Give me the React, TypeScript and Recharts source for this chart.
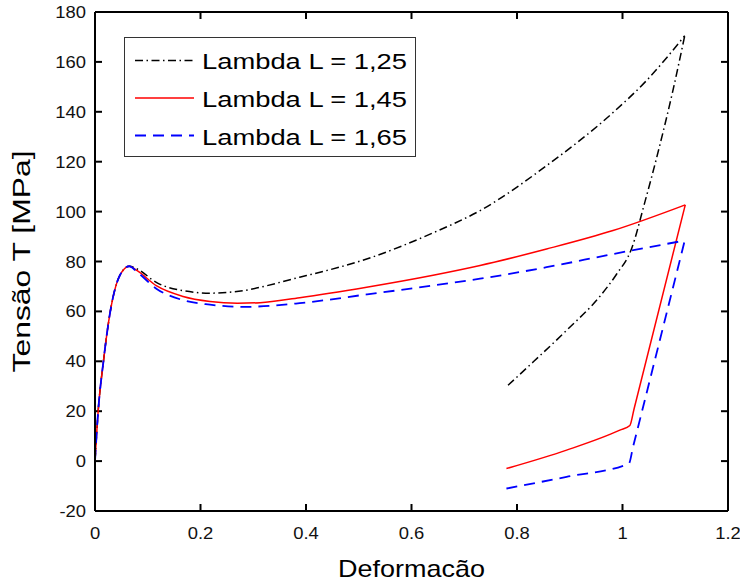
import React from "react"
import { LineChart, Line, XAxis, YAxis, Legend, ReferenceLine } from "recharts"

type Pt = { x: number; y: number }

// Lambda L = 1,25 : loading branch, then unloading branch (sorted by x)
const blackLoad: Pt[] = [
  { x: 0, y: 0 }, { x: 0.006, y: 20 }, { x: 0.016, y: 40 }, { x: 0.029, y: 60 },
  { x: 0.047, y: 74.4 }, { x: 0.065, y: 78.1 }, { x: 0.08, y: 77 }, { x: 0.117, y: 71.5 },
  { x: 0.167, y: 68.3 }, { x: 0.218, y: 67.3 }, { x: 0.262, y: 67.8 }, { x: 0.388, y: 73.7 },
  { x: 0.515, y: 81 }, { x: 0.641, y: 91.5 }, { x: 0.73, y: 100.4 }, { x: 0.856, y: 118.4 },
  { x: 0.982, y: 139.7 }, { x: 1.045, y: 152.4 }, { x: 1.118, y: 170.5 }
]
const blackUnload: Pt[] = [
  { x: 0.783, y: 30.4 }, { x: 0.831, y: 39.8 }, { x: 0.894, y: 52.4 }, { x: 0.957, y: 66 },
  { x: 0.989, y: 75 }, { x: 1.017, y: 85 }, { x: 1.042, y: 103.5 }, { x: 1.07, y: 126 },
  { x: 1.095, y: 148 }, { x: 1.118, y: 170.5 }
]

// Lambda L = 1,45
const redLoad: Pt[] = [
  { x: 0, y: 0 }, { x: 0.006, y: 20 }, { x: 0.016, y: 40 }, { x: 0.029, y: 60 },
  { x: 0.047, y: 74.4 }, { x: 0.065, y: 78.1 }, { x: 0.08, y: 76.3 }, { x: 0.117, y: 70.2 },
  { x: 0.167, y: 66 }, { x: 0.218, y: 64 }, { x: 0.27, y: 63.3 }, { x: 0.313, y: 63.5 },
  { x: 0.388, y: 65.5 }, { x: 0.515, y: 69.7 }, { x: 0.641, y: 74.5 }, { x: 0.73, y: 78.4 },
  { x: 0.856, y: 85 }, { x: 0.982, y: 92.4 }, { x: 1.119, y: 102.7 }
]
const redUnload: Pt[] = [
  { x: 0.78, y: -3 }, { x: 0.894, y: 4.4 }, { x: 0.995, y: 12.4 }, { x: 1.014, y: 14.3 },
  { x: 1.022, y: 21 }, { x: 1.119, y: 102.7 }
]

// Lambda L = 1,65
const blueLoad: Pt[] = [
  { x: 0, y: 0 }, { x: 0.006, y: 20 }, { x: 0.016, y: 40 }, { x: 0.029, y: 60 },
  { x: 0.047, y: 74.4 }, { x: 0.065, y: 78.1 }, { x: 0.08, y: 75.8 }, { x: 0.117, y: 69 },
  { x: 0.167, y: 64.5 }, { x: 0.218, y: 62.7 }, { x: 0.28, y: 61.8 }, { x: 0.388, y: 63.3 },
  { x: 0.515, y: 66.8 }, { x: 0.641, y: 70.4 }, { x: 0.73, y: 73.1 }, { x: 0.856, y: 77.7 },
  { x: 0.982, y: 83 }, { x: 1.118, y: 88.4 }
]
const blueUnload: Pt[] = [
  { x: 0.78, y: -11 }, { x: 0.894, y: -6.3 }, { x: 1.012, y: -1 }, { x: 1.02, y: 5.7 },
  { x: 1.118, y: 88.4 }
]

const xTicks = [0, 0.2, 0.4, 0.6, 0.8, 1, 1.2]
const yTicks = [-20, 0, 20, 40, 60, 80, 100, 120, 140, 160, 180]
const seriesNames = ["Lambda L = 1,25", "Lambda L = 1,45", "Lambda L = 1,65"]

const X_DOMAIN: [number, number] = [0, 1.2]
const Y_DOMAIN: [number, number] = [-20, 180]

const FONT = "'Liberation Sans', Arial, Helvetica, sans-serif"
const seriesStyles = [
  { color: "#000000", dash: "8 3.5 1.5 3.5", width: 1.5 },
  { color: "#ff0000", dash: "", width: 1.5 },
  { color: "#0000ff", dash: "11 7", width: 1.8 }
]

// plot box size in px, to turn the 7px inward tick length into axis units
const PLOT_W = 633
const PLOT_H = 499
const TICK_PX = 7
const tickDx = (TICK_PX * (X_DOMAIN[1] - X_DOMAIN[0])) / PLOT_W
const tickDy = (TICK_PX * (Y_DOMAIN[1] - Y_DOMAIN[0])) / PLOT_H

const BottomTick = ({ x, y, payload }: any) => (
  <text
    transform={`translate(${x},${y + 28}) scale(1.15,1)`}
    textAnchor="middle"
    fontSize={16}
    fontFamily={FONT}
    fill="#111"
  >
    {String(payload.value)}
  </text>
)

const LeftTick = ({ x, y, payload }: any) => (
  <text
    transform={`translate(${x - 9},${y + 6}) scale(1.15,1)`}
    textAnchor="end"
    fontSize={16}
    fontFamily={FONT}
    fill="#111"
  >
    {String(payload.value)}
  </text>
)

const LegendBox = () => (
  <svg width={292} height={120} style={{ display: "block" }}>
    <rect x={0.5} y={0.5} width={291} height={119} fill="#fff" stroke="#333" strokeWidth={1} />
    {seriesNames.map((name, i) => {
      const s = seriesStyles[i]
      return (
        <g key={name}>
          <line
            x1={11}
            x2={70}
            y1={23.5 + i * 37.5}
            y2={23.5 + i * 37.5}
            stroke={s.color}
            strokeWidth={s.width}
            strokeDasharray={s.dash || undefined}
          />
          <text
            x={78}
            y={32 + i * 38}
            fontSize={22.5}
            fontFamily={FONT}
            fill="#000"
            textLength={205}
            lengthAdjust="spacingAndGlyphs"
          >
            {name}
          </text>
        </g>
      )
    })}
  </svg>
)

export default function App() {
  const lines = [
    { data: blackLoad, s: seriesStyles[0] },
    { data: blackUnload, s: seriesStyles[0] },
    { data: redLoad, s: seriesStyles[1] },
    { data: redUnload, s: seriesStyles[1] },
    { data: blueLoad, s: seriesStyles[2] },
    { data: blueUnload, s: seriesStyles[2] }
  ]

  return (
    <div style={{ position: "absolute", left: 0, top: 0, width: 740, height: 582, background: "#fff" }}>
      <LineChart width={740} height={582} margin={{ top: 12, right: 12, bottom: 0, left: 0 }}>
        <XAxis
          dataKey="x"
          type="number"
          domain={X_DOMAIN}
          ticks={xTicks}
          interval={0}
          height={71}
          tickSize={0}
          tickMargin={0}
          tickLine={false}
          axisLine={{ stroke: "#000", strokeWidth: 2 }}
          tick={(p: any) => <BottomTick {...p} />}
          label={(p: any) => {
            const vb = p && p.viewBox ? p.viewBox : { x: 95, y: 511, width: 633, height: 71 }
            return (
              <text
                x={vb.x + vb.width / 2}
                y={577}
                textAnchor="middle"
                fontSize={24}
                fontFamily={FONT}
                fill="#000"
                textLength={147}
                lengthAdjust="spacingAndGlyphs"
              >
                Deformacão
              </text>
            )
          }}
        />
        <YAxis
          type="number"
          domain={Y_DOMAIN}
          ticks={yTicks}
          interval={0}
          width={95}
          tickSize={0}
          tickMargin={0}
          tickLine={false}
          axisLine={{ stroke: "#000", strokeWidth: 2 }}
          tick={(p: any) => <LeftTick {...p} />}
          label={() => (
            <text
              transform="translate(29.5,261.5) rotate(-90)"
              textAnchor="middle"
              fontSize={23.5}
              fontFamily={FONT}
              fill="#000"
              textLength={222}
              lengthAdjust="spacingAndGlyphs"
            >
              Tensão T [MPa]
            </text>
          )}
        />

        {/* top and right sides of the box */}
        <ReferenceLine y={Y_DOMAIN[1]} stroke="#000" strokeWidth={2} />
        <ReferenceLine x={X_DOMAIN[1]} stroke="#000" strokeWidth={2} />

        {/* inward tick marks on all four sides */}
        {xTicks.map(t => (
          <ReferenceLine
            key={`xb${t}`}
            segment={[{ x: t, y: Y_DOMAIN[0] }, { x: t, y: Y_DOMAIN[0] + tickDy }]}
            stroke="#000"
            strokeWidth={2}
          />
        ))}
        {xTicks.map(t => (
          <ReferenceLine
            key={`xt${t}`}
            segment={[{ x: t, y: Y_DOMAIN[1] - tickDy }, { x: t, y: Y_DOMAIN[1] }]}
            stroke="#000"
            strokeWidth={2}
          />
        ))}
        {yTicks.map(t => (
          <ReferenceLine
            key={`yl${t}`}
            segment={[{ x: X_DOMAIN[0], y: t }, { x: X_DOMAIN[0] + tickDx, y: t }]}
            stroke="#000"
            strokeWidth={2}
          />
        ))}
        {yTicks.map(t => (
          <ReferenceLine
            key={`yr${t}`}
            segment={[{ x: X_DOMAIN[1] - tickDx, y: t }, { x: X_DOMAIN[1], y: t }]}
            stroke="#000"
            strokeWidth={2}
          />
        ))}

        {lines.map((l, i) => (
          <Line
            key={i}
            data={l.data}
            dataKey="y"
            type="monotone"
            stroke={l.s.color}
            strokeWidth={l.s.width}
            strokeDasharray={l.s.dash || undefined}
            dot={false}
            activeDot={false}
            legendType="none"
            isAnimationActive={false}
          />
        ))}
        <Legend
          layout="horizontal"
          verticalAlign="middle"
          align="center"
          content={() => <LegendBox />}
          wrapperStyle={{ left: 124, top: 37, width: 292, height: 120 }}
        />
      </LineChart>
    </div>
  )
}
